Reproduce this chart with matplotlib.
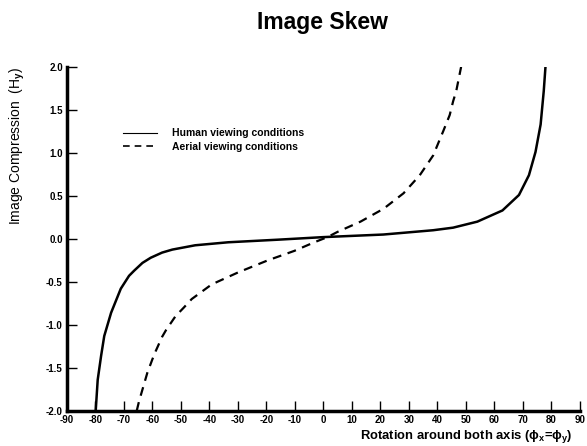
import matplotlib
matplotlib.use('Agg')
import matplotlib.pyplot as plt

plt.rcParams['font.family'] = ['Liberation Sans', 'DejaVu Sans']
plt.rcParams['mathtext.fontset'] = 'custom'
plt.rcParams['mathtext.rm'] = 'Liberation Sans:bold'
plt.rcParams['mathtext.it'] = 'Liberation Sans:bold'

# compression vs. rotation angle (degrees)
human_angle = [-79.9, -79.2, -78.0, -76.9, -74.5, -71.1, -68.2, -66.4, -63.5, -60.6,
               -56.6, -53.0, -49.0, -45.0, -33.4, -16.0, 0.0, 21.0, 38.5, 45.5,
               54.0, 62.8, 68.6, 72.1, 74.4, 76.2, 77.3, 77.9]
human_comp = [-2.0, -1.64, -1.36, -1.13, -0.86, -0.58, -0.43, -0.37, -0.28, -0.22,
              -0.16, -0.125, -0.10, -0.075, -0.04, -0.01, 0.02, 0.05, 0.10, 0.13,
              0.20, 0.33, 0.51, 0.74, 1.01, 1.33, 1.72, 2.0]

aerial_angle = [-65.5, -64.7, -61.8, -60.0, -58.9, -56.6, -55.2, -51.9, -49.0, -46.2,
                -39.2, -29.9, -19.5, -10.2, -3.2, 1.4, 4.9, 13.0, 21.1, 28.1,
                33.8, 38.5, 42.0, 44.3, 45.5, 46.6, 48.3]
aerial_comp = [-2.0, -1.89, -1.56, -1.40, -1.31, -1.14, -1.06, -0.90, -0.80, -0.70,
               -0.53, -0.39, -0.25, -0.14, -0.04, 0.02, 0.08, 0.20, 0.35, 0.53,
               0.74, 0.97, 1.25, 1.44, 1.60, 1.72, 2.0]

x_ticks = list(range(-90, 91, 10))
y_ticks = [-2.0, -1.5, -1.0, -0.5, 0.0, 0.5, 1.0, 1.5, 2.0]

fig = plt.figure(figsize=(5.87, 4.46), dpi=100)
ax = fig.add_axes([0.114, 0.079, 0.874, 0.771])

ax.plot(human_angle, human_comp, color='black', lw=1.8, solid_joinstyle='round',
        label='Human viewing conditions')
ax.plot(aerial_angle, aerial_comp, color='black', lw=1.6, dashes=(4, 3),
        label='Aerial viewing conditions')

ax.set_xlim(-90, 90)
ax.set_ylim(-2.0, 2.0)
ax.set_xticks(x_ticks)
ax.set_yticks(y_ticks)
ax.set_xticklabels([str(t) for t in x_ticks], fontsize=7, fontweight='bold')
ax.set_yticklabels([f'{t:.1f}' for t in y_ticks], fontsize=7, fontweight='bold')
ax.tick_params(direction='in', length=7, width=1.0, pad=3)

for s in ['top', 'right']:
    ax.spines[s].set_visible(False)
for s in ['left', 'bottom']:
    ax.spines[s].set_linewidth(2.5)

ax.set_ylabel(r'Image Compression  (H$_y$)', fontsize=10)
ax.yaxis.set_label_coords(-0.077, 0.77)
fig.text(0.976, 0.022, r'Rotation around both axis ($\phi_x$=$\phi_y$)',
         fontsize=9.4, fontweight='bold', ha='right', va='center')

fig.text(0.55, 0.95, 'Image Skew', fontsize=16.5, fontweight='bold',
         ha='center', va='center')

leg = fig.legend(loc='upper left', bbox_to_anchor=(0.2095, 0.712),
                 bbox_transform=fig.transFigure, frameon=False, borderpad=0,
                 borderaxespad=0, fontsize=7.5, handlelength=3.3,
                 handletextpad=1.45, labelspacing=0.35)
for t in leg.get_texts():
    t.set_fontweight('bold')
leg.get_lines()[0].set_linewidth(0.8)
leg.get_lines()[1].set_linewidth(1.2)

fig.savefig('out.png', dpi=100)
